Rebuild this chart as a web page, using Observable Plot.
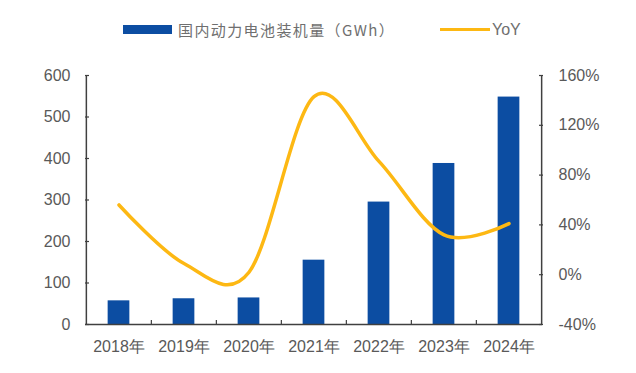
<!DOCTYPE html>
<html>
<head>
<meta charset="utf-8">
<script src="https://cdn.jsdelivr.net/npm/d3@7"></script>
<script src="https://cdn.jsdelivr.net/npm/@observablehq/plot@0.6"></script>
<style>
  body { margin: 0; background: #fff; width: 636px; height: 373px; overflow: hidden; font-family: "Liberation Sans", Arial, sans-serif; }
  #legend { position: relative; height: 50px; }
  .sw-bar { position: absolute; left: 123px; top: 25px; width: 49px; height: 9px; background: #0C4DA2; }
  .lb1 { position: absolute; left: 178px; top: 20px; font-family: "Noto Sans CJK SC", sans-serif; font-size: 15px; color: #6f6f6f; letter-spacing: 1.4px; line-height: 20px; }
  .sw-line { position: absolute; left: 440px; top: 28px; width: 50px; height: 3px; background: #FDB813; }
  .lb2 { position: absolute; left: 492px; top: 20px; font-size: 16px; color: #6f6f6f; line-height: 20px; }
  svg { display: block; }
</style>
</head>
<body>
<div id="legend">
  <div class="sw-bar"></div><div class="lb1">国内动力电池装机量（GWh）</div>
  <div class="sw-line"></div><div class="lb2">YoY</div>
</div>
<div id="chart"></div>
<script>
const years = ["2018年", "2019年", "2020年", "2021年", "2022年", "2023年", "2024年"];
const installed = [57, 62, 64, 155, 295, 388, 548];   // GWh
const yoy = [56, 9, 2, 143, 91, 32, 41];               // %
const leftTicks = [0, 100, 200, 300, 400, 500, 600];
const rightTicks = [-40, 0, 40, 80, 120, 160];

const toLeft = v => (v + 40) * 3; // map % (-40..160) onto 0..600
const bars = years.map((y, i) => ({year: y, value: installed[i]}));
const line = years.map((y, i) => ({year: y, value: toLeft(yoy[i])}));

const W = 636, H = 323;
const mL = 85, mR = 94, mT = 25, mB = 49;
const bw = (W - mL - mR) / years.length;
const yPerPx = 600 / (H - mT - mB);

const axisColor = "#404040";
const labelColor = "#595959";

const chart = Plot.plot({
  width: W, height: H,
  marginLeft: mL, marginRight: mR, marginTop: mT, marginBottom: mB,
  style: {fontFamily: "'Liberation Sans', Arial, sans-serif", fontSize: "16px", color: labelColor, background: "#fff"},
  x: {type: "band", domain: years, padding: 0, label: null},
  y: {domain: [0, 600], label: null},
  marks: [
    Plot.barY(bars, {x: "year", y: "value", fill: "#0C4DA2", insetLeft: (bw - 22) / 2, insetRight: (bw - 22) / 2}),
    Plot.line(line, {x: "year", y: "value", stroke: "#FDB813", strokeWidth: 3.5, curve: "cardinal"}),
    // axis lines
    Plot.ruleY([0], {stroke: axisColor, strokeWidth: 1.5}),
    Plot.ruleX([years[0]], {x: d => d, dx: -bw / 2, y1: 0, y2: 600, stroke: axisColor, strokeWidth: 1.5}),
    Plot.ruleX([years[years.length - 1]], {x: d => d, dx: bw / 2, y1: 0, y2: 600, stroke: axisColor, strokeWidth: 1.5}),
    // category boundary ticks
    Plot.ruleX(years.slice(1), {x: d => d, dx: -bw / 2, y1: 0, y2: 4 * yPerPx, stroke: axisColor, strokeWidth: 1.2}),
    // y axes (inward ticks)
    Plot.axisY({anchor: "left", ticks: leftTicks, tickSize: -4, tickPadding: 19, label: null, fill: labelColor, stroke: axisColor, strokeWidth: 1.2}),
    Plot.axisY({anchor: "right", ticks: rightTicks.map(toLeft), tickFormat: (d) => (d / 3 - 40) + "%", tickSize: -4, tickPadding: 20, label: null, fill: labelColor, stroke: axisColor, strokeWidth: 1.2}),
    Plot.axisX({tickSize: 0, tickPadding: 16, label: null, fill: labelColor})
  ]
});
document.getElementById("chart").appendChild(chart);
</script>
</body>
</html>
